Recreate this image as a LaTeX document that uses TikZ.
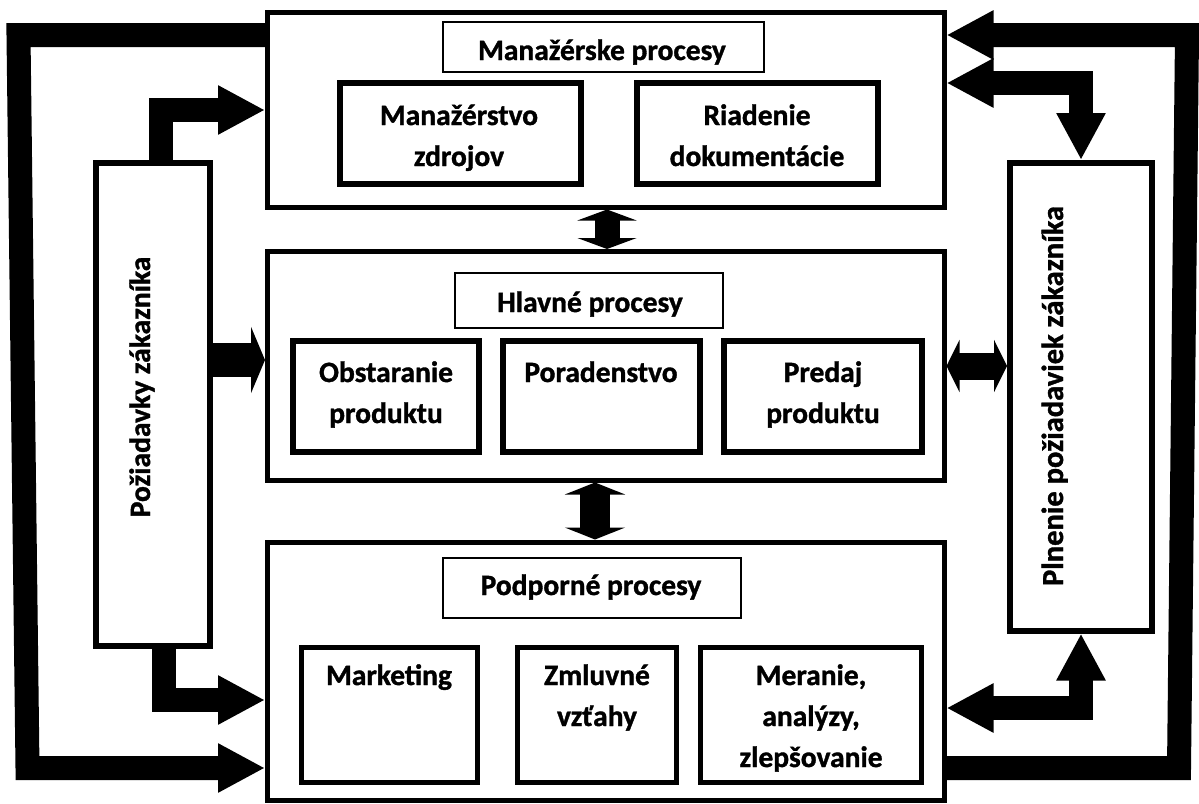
\documentclass[tikz,border=0pt]{standalone}
\usepackage{fontspec}
\setmainfont{Carlito}[BoldFeatures={FakeBold=1.2}]
\usetikzlibrary{arrows.meta}
\newcommand\ml[1]{\begin{tabular}[t]{@{}c@{}}#1\end{tabular}}
\begin{document}
\begin{tikzpicture}[x=1pt,y=-1pt,
  mainbox/.style={draw, line width=5pt, inner sep=0pt},
  sidebox/.style={draw, line width=6pt, inner sep=0pt},
  innerbox/.style={draw, line width=6pt, inner sep=0pt},
  titlebox/.style={draw, line width=1.6pt, inner sep=0pt},
  txt/.style={font=\fontsize{29.5}{41}\selectfont\bfseries, inner sep=0pt, anchor=base},
  big/.style={line width=24pt, >={Triangle[length=47pt,width=46pt]}},
  midl/.style={line width=34pt, >={Triangle[length=14pt,width=66pt]}},
  midr/.style={line width=27pt, >={Triangle[length=13pt,width=52pt]}},
  vtop/.style={line width=25pt, >={Triangle[length=11pt,width=59pt]}},
  vbot/.style={line width=30pt, >={Triangle[length=12pt,width=60pt]}}
]
\useasboundingbox (0,0) rectangle (1199,803);

% main boxes
\node[mainbox, minimum width=676.5pt, minimum height=194.5pt] (T) at (605.75,109.75) {};
\node[mainbox, minimum width=676.5pt, minimum height=228.5pt] (M) at (605.75,365.75) {};
\node[mainbox, minimum width=676.5pt, minimum height=258pt] (B) at (605.75,671) {};
\node[sidebox, minimum width=113.5pt, minimum height=483pt] (L) at (152.75,404.5) {};
\node[sidebox, minimum width=142pt, minimum height=467.5pt] (R) at (1081,396.75) {};

% title boxes
\node[titlebox, minimum width=321pt, minimum height=50pt] (TT) at (603.5,47) {};
\node[titlebox, minimum width=268pt, minimum height=55pt] (MT) at (589,300.5) {};
\node[titlebox, minimum width=298pt, minimum height=60pt] (BT) at (592,588) {};

% inner boxes
\node[innerbox, minimum width=241pt, minimum height=101pt] (T1) at (460.5,133.5) {};
\node[innerbox, minimum width=241pt, minimum height=101pt] (T2) at (757.5,133.5) {};
\node[innerbox, minimum width=186pt, minimum height=111pt] (M1) at (386,396.5) {};
\node[innerbox, minimum width=197pt, minimum height=111pt] (M2) at (601.5,396.5) {};
\node[innerbox, minimum width=198pt, minimum height=111pt] (M3) at (823,396.5) {};
\node[mainbox, minimum width=176pt, minimum height=135pt] (B1) at (389.5,715) {};
\node[mainbox, minimum width=159pt, minimum height=135pt] (B2) at (597,715) {};
\node[mainbox, minimum width=221pt, minimum height=135pt] (B3) at (811,715) {};

% texts
\node[txt] (tTT) at (602,60) {Manažérske procesy};
\node[txt] (tT1) at (459,125) {\ml{Manažérstvo\\zdrojov}};
\node[txt] (tT2) at (757,125) {\ml{Riadenie\\dokumentácie}};
\node[txt] (tMT) at (590,312) {Hlavné procesy};
\node[txt] (tM1) at (386,382) {\ml{Obstaranie\\produktu}};
\node[txt] (tM2) at (601,382) {Poradenstvo};
\node[txt] (tM3) at (823,382) {\ml{Predaj\\produktu}};
\node[txt] (tBT) at (591,595) {Podporné procesy};
\node[txt] (tB1) at (389,685) {Marketing};
\node[txt] (tB2) at (597,685) {\ml{Zmluvné\\vzťahy}};
\node[txt] (tB3) at (811,685) {\ml{Meranie,\\analýzy,\\zlepšovanie}};
\node[txt, rotate=90] (tL) at (150,387) {Požiadavky zákazníka};
\node[txt, rotate=90, font=\fontsize{30.5}{40}\selectfont\bfseries] (tR) at (1063,396) {Plnenie požiadaviek zákazníka};

% bend points
\coordinate (cLT) at (18.5,35);
\coordinate (cLB) at (27.5,768);
\coordinate (cRB) at (1179,768);
\coordinate (cRT) at (1187,35);

% connectors
\draw[big,->] (T.west |- 0,35) -- (cLT) -- (cLB) -- (B.west |- 0,768);
\draw[big,->] (B.east |- 0,768) -- (cRB) -- (cRT) -- (T.east |- 0,35);
\draw[big,->] ([xshift=8pt]L.north) |- (T.west |- 0,110);
\draw[big,->] ([xshift=11pt]L.south) |- (B.west |- 0,700);
\draw[big,<->] (T.east |- 0,83) -| (R.north);
\draw[big,<->] (B.east |- 0,708) -| (R.south);
\draw[midl,->] (L.east |- 0,360) -- (M.west |- 0,360);
\draw[midr,<->] (M.east |- 0,366) -- (R.west |- 0,366);
\draw[vtop,<->] (T.south -| 607,0) -- (M.north -| 607,0);
\draw[vbot,<->] (M.south -| 595,0) -- (B.north -| 595,0);
\end{tikzpicture}
\end{document}
